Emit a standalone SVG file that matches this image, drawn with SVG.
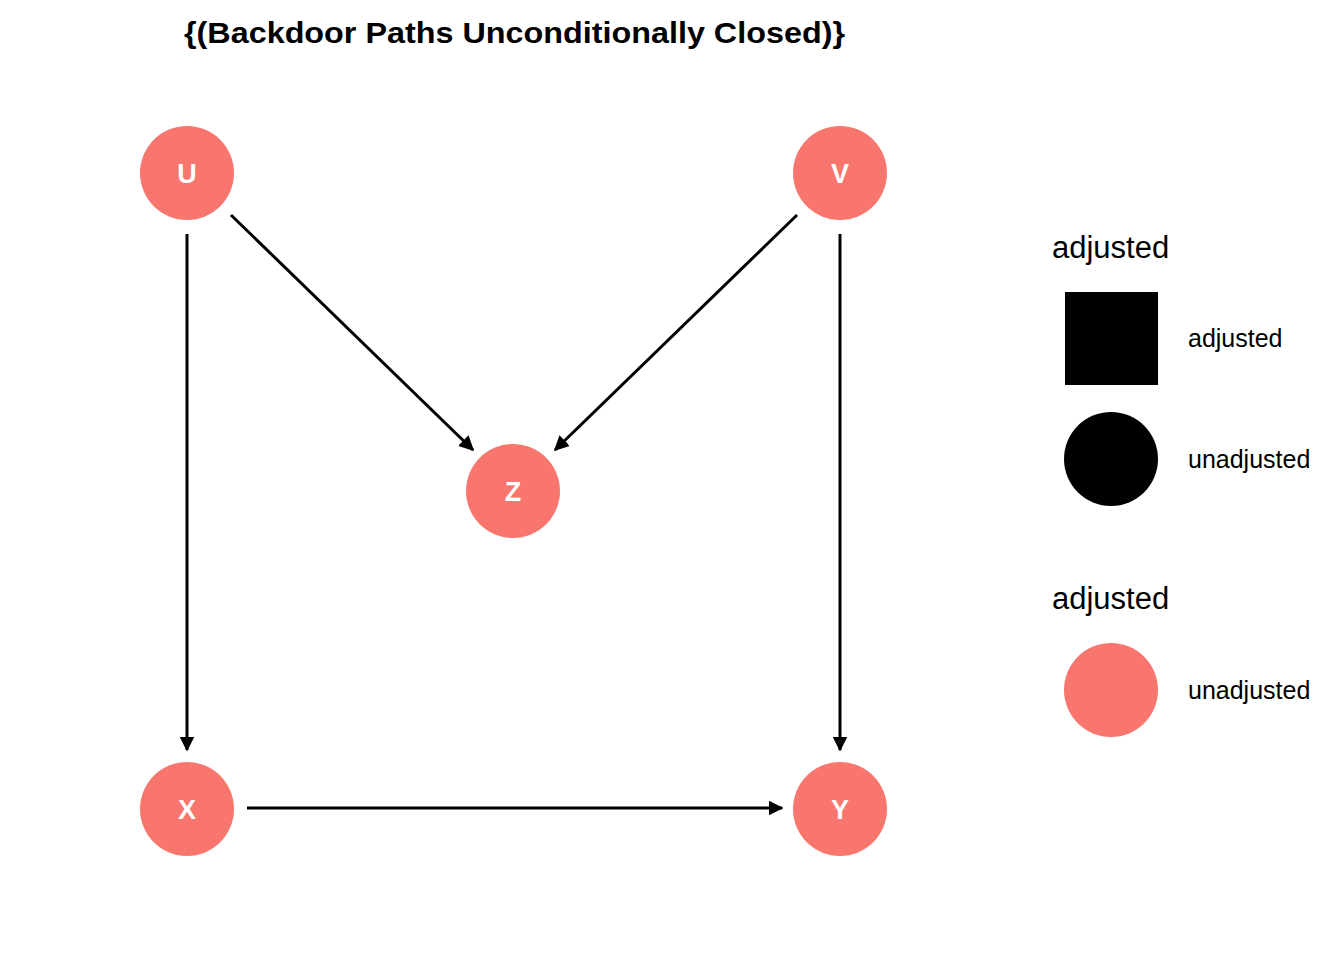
<svg xmlns="http://www.w3.org/2000/svg" width="1344" height="960" viewBox="0 0 1344 960">
<style>
.node circle{fill:#F8766D}
.node text{fill:#fff;font-family:"Liberation Sans",Arial,sans-serif;font-weight:bold;font-size:27px;text-anchor:middle}
.edge{stroke:#000;stroke-width:3;fill:none;marker-end:url(#ah)}
.lg{font-family:"Liberation Sans",Arial,sans-serif;fill:#000}
</style>
<defs>
<marker id="ah" viewBox="0 0 10 10" refX="9" refY="5" markerWidth="5" markerHeight="5" markerUnits="strokeWidth" orient="auto">
<path d="M0,0 L10,5 L0,10 z" fill="#000"/>
</marker>
</defs>
<rect width="1344" height="960" fill="#fff"/>
<text x="184" y="43" font-family="'Liberation Sans',Arial,sans-serif" font-weight="bold" font-size="30" textLength="661" lengthAdjust="spacingAndGlyphs">{(Backdoor Paths Unconditionally Closed)}</text>
<g id="connectors">
<line class="edge" x1="187" y1="234" x2="187" y2="750"/>
<line class="edge" x1="840" y1="234" x2="840" y2="750"/>
<line class="edge" x1="247" y1="808" x2="782" y2="808"/>
<line class="edge" x1="231" y1="215" x2="473" y2="450"/>
<line class="edge" x1="797" y1="215" x2="555" y2="450"/>
</g>
<g id="node-U" class="node"><circle cx="187" cy="173" r="47"/><text x="187" y="183">U</text></g>
<g id="node-V" class="node"><circle cx="840" cy="173" r="47"/><text x="840" y="183">V</text></g>
<g id="node-Z" class="node"><circle cx="513" cy="491" r="47"/><text x="513" y="501">Z</text></g>
<g id="node-X" class="node"><circle cx="187" cy="809" r="47"/><text x="187" y="819">X</text></g>
<g id="node-Y" class="node"><circle cx="840" cy="809" r="47"/><text x="840" y="819">Y</text></g>
<g id="legend">
<text class="lg" x="1052" y="258" font-size="31">adjusted</text>
<rect x="1065" y="292" width="93" height="93" fill="#000"/>
<text class="lg" x="1188" y="347" font-size="25">adjusted</text>
<circle cx="1111" cy="459" r="47" fill="#000"/>
<text class="lg" x="1188" y="468" font-size="25">unadjusted</text>
<text class="lg" x="1052" y="609" font-size="31">adjusted</text>
<circle cx="1111" cy="690" r="47" fill="#F8766D"/>
<text class="lg" x="1188" y="699" font-size="25">unadjusted</text>
</g>
</svg>
